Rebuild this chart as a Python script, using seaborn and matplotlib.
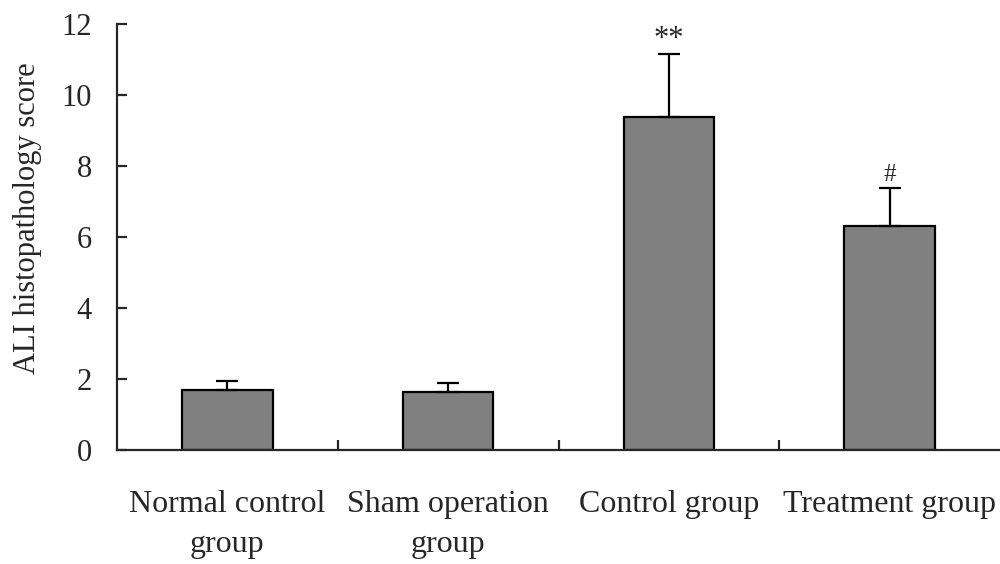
import pandas as pd
import seaborn as sns
import matplotlib.pyplot as plt
import numpy as np

# Data
groups = ['Normal control\ngroup', 'Sham operation\ngroup', 'Control group', 'Treatment group']
scores = [1.69, 1.63, 9.38, 6.31]
errors = [0.25, 0.26, 1.77, 1.07]
marks = ['', '', '**', '#']

df = pd.DataFrame({'group': groups, 'score': scores})

sns.set_style('ticks')
plt.rcParams['font.family'] = ['Liberation Serif', 'DejaVu Serif']

fig = plt.figure(figsize=(10, 5.64), dpi=100)
ax = fig.add_axes([0.117, 0.202, 0.883, 0.755])

sns.barplot(data=df, x='group', y='score', color='#808080', saturation=1,
            width=0.41, edgecolor='black', linewidth=1.6, ax=ax)

# upper error bars only
x = np.arange(len(groups))
ax.errorbar(x, scores, yerr=[np.zeros(len(errors)), errors], fmt='none',
            ecolor='black', elinewidth=1.6, capsize=8, capthick=1.6, zorder=1)

for xi, s, e, m in zip(x, scores, errors, marks):
    if m == '**':
        ax.text(xi, s + e + 0.0, m, ha='center', va='bottom', fontsize=22)
    elif m:
        ax.text(xi, s + e + 0.05, m, ha='center', va='bottom', fontsize=18)

ax.set_xlim(-0.5, 3.5)
ax.set_ylim(0, 12)
ax.set_yticks(range(0, 13, 2))
ax.set_xticks([0.5, 1.5, 2.5], minor=True)
ax.tick_params(axis='x', which='major', length=0, pad=29, labelsize=23)
ax.tick_params(axis='x', which='minor', direction='in', length=7, width=1.6)
ax.tick_params(axis='y', direction='in', length=7, width=1.6, labelsize=22, pad=18)
for lab in ax.get_xticklabels():
    lab.set_linespacing(1.5)
ax.set_xlabel('')
ax.set_ylabel('ALI histopathology score', fontsize=22)
ax.yaxis.set_label_coords(-0.085, 0.545)

sns.despine(ax=ax)
for sp in ['left', 'bottom']:
    ax.spines[sp].set_linewidth(1.6)

fig.savefig('out.png', dpi=100)
